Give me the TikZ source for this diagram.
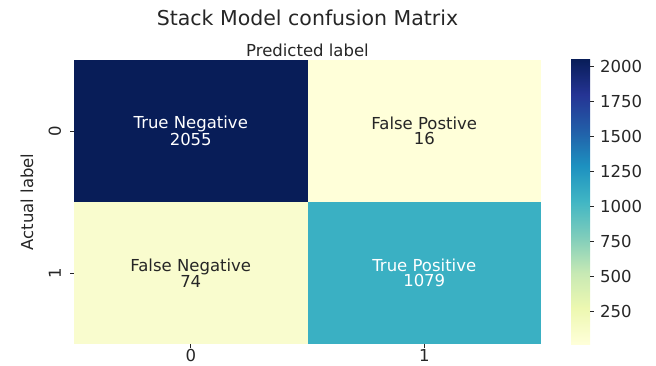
\documentclass[tikz,border=0pt]{standalone}
\usepackage{fontspec}
\setmainfont{DejaVu Sans}
\usepackage{tikz}
\usetikzlibrary{positioning}
\definecolor{Ink}{HTML}{262626}
\definecolor{ylA}{HTML}{FFFFD9}
\definecolor{ylB}{HTML}{EDF8B1}
\definecolor{ylC}{HTML}{C7E9B4}
\definecolor{ylD}{HTML}{7FCDBB}
\definecolor{ylE}{HTML}{41B6C4}
\definecolor{ylF}{HTML}{1D91C0}
\definecolor{ylG}{HTML}{225EA8}
\definecolor{ylH}{HTML}{253494}
\definecolor{ylI}{HTML}{081D58}
\definecolor{CellTN}{HTML}{081D58}
\definecolor{CellFP}{HTML}{FFFFD9}
\definecolor{CellFN}{HTML}{F9FCCE}
\definecolor{CellTP}{HTML}{3AB0C3}
\pgfdeclareverticalshading{ylgnbu}{100bp}{color(0bp)=(ylA); color(25bp)=(ylA);
  color(31.25bp)=(ylB); color(37.5bp)=(ylC); color(43.75bp)=(ylD); color(50bp)=(ylE);
  color(56.25bp)=(ylF); color(62.5bp)=(ylG); color(68.75bp)=(ylH); color(75bp)=(ylI); color(100bp)=(ylI)}
\tikzset{
  cell/.style={inner sep=0pt,minimum width=233.5pt,minimum height=142pt,align=center,
    font=\fontsize{16.5}{15}\selectfont},
  darkcell/.style={cell,text=white},
  lightcell/.style={cell,text=Ink},
  ticklabel/.style={font=\fontsize{16.5}{18}\selectfont,text=Ink,inner sep=0pt},
  axislabel/.style={font=\fontsize{16.5}{18}\selectfont,text=Ink,inner sep=0pt},
  tickmark/.style={draw=Ink,line width=0.8pt}
}
\begin{document}
\begin{tikzpicture}[x=1pt,y=-1pt]
\useasboundingbox (0,0) rectangle (656,365);
% title and axis labels
\node[font=\fontsize{20.5}{22}\selectfont,text=Ink] (title) at (307.5,18) {Stack Model confusion Matrix};
\node[axislabel] (xlab) at (307.5,50) {Predicted label};
\node[axislabel,rotate=90] (ylab) at (27,202) {Actual label};
% the four cells
\node[darkcell,fill=CellTN] (tn) at (190.75,131) {True Negative\\2055};
\node[lightcell,fill=CellFP] (fp) at (424.25,131) {False Postive\\16};
\node[lightcell,fill=CellFN] (fn) at (190.75,273) {False Negative\\74};
\node[darkcell,fill=CellTP] (tp) at (424.25,273) {True Positive\\1079};
% ticks of the heatmap
\foreach \n/\lab in {tn/0,fn/1}{
  \coordinate (yt\lab) at (\n.west);
  \draw[tickmark] (yt\lab) -- ++(-4,0);
  \node[ticklabel,rotate=90] (ytl\lab) at ([xshift=-19pt]yt\lab) {\lab};
}
\foreach \n/\lab in {fn/0,tp/1}{
  \coordinate (xt\lab) at (\n.south);
  \draw[tickmark] (xt\lab) -- ++(0,4);
  \node[ticklabel,anchor=north] (xtl\lab) at ([yshift=-5pt]xt\lab) {\lab};
}
% colour bar
\shade[shading=ylgnbu] (571,59) rectangle (590,344);
\foreach \v in {250,500,...,2000}{
  \pgfmathsetmacro{\yy}{344-(\v-16)/2039*285}
  \draw[tickmark] (590,\yy) -- (594,\yy);
  \node[ticklabel,anchor=west] (cb\v) at (600,\yy) {\v};
}
\end{tikzpicture}
\end{document}
